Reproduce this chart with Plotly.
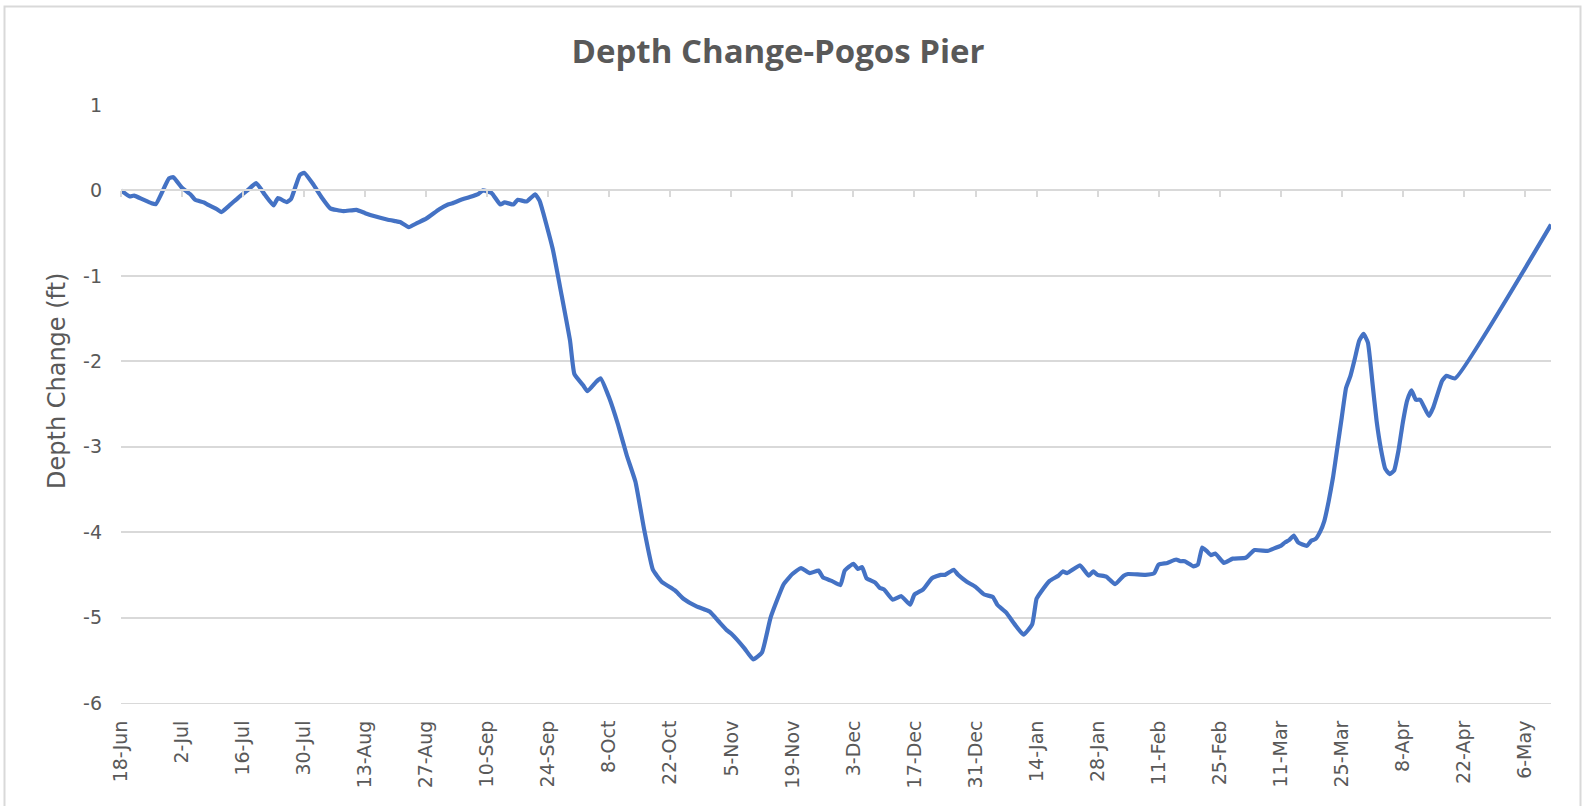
import pandas as pd
import plotly.graph_objects as go

# ---- data ----
start_date = "2018-06-18"
day_offset = [0, 2, 3, 5, 7, 8, 11, 12, 14, 16, 17, 19, 20, 22, 23, 25, 27, 29, 31, 33,
              35, 36, 38, 39, 41, 42, 44, 46, 48, 51, 54, 56, 58, 61, 63, 64, 66, 68, 70, 73,
              75, 76, 78, 80, 82, 83, 85, 87, 88, 90, 91, 93, 95, 96, 99, 101, 103, 104, 106, 107,
              109, 110, 112, 114, 116, 118, 120, 122, 124, 127, 129, 132, 135, 137, 139, 140, 143, 145, 147, 149,
              152, 154, 156, 158, 160, 161, 163, 165, 166, 168, 169, 170, 171, 173, 174, 175, 177, 179, 181, 182,
              184, 186, 188, 189, 191, 192, 194, 196, 198, 200, 201, 203, 205, 207, 209, 210, 211, 213, 215, 216,
              217, 220, 222, 223, 224, 226, 228, 230, 231, 235, 237, 238, 240, 242, 243, 244, 246, 247, 248, 249,
              250, 251, 253, 255, 258, 260, 263, 264, 266, 267, 268, 269, 270, 272, 273, 274, 275, 276, 277, 278,
              279, 280, 281, 282, 283, 284, 285, 286, 287, 288, 289, 290, 291, 292, 293, 294, 295, 296, 297, 298,
              300, 301, 303, 304, 306, 328]
depth_change = [0.0, -0.07, -0.06, -0.105, -0.15, -0.16, 0.14, 0.155, 0.03, -0.05, -0.11, -0.14, -0.17, -0.22, -0.254, -0.17, -0.08, 0.0, 0.085, -0.05,
                -0.175, -0.09, -0.137, -0.1, 0.18, 0.207, 0.078, -0.08, -0.21, -0.242, -0.227, -0.266, -0.30, -0.34, -0.36, -0.37, -0.43, -0.38, -0.33, -0.22,
                -0.164, -0.15, -0.11, -0.078, -0.04, 0.0, -0.03, -0.165, -0.14, -0.165, -0.11, -0.13, -0.045, -0.12, -0.68, -1.21, -1.76, -2.15, -2.28, -2.35,
                -2.24, -2.2, -2.43, -2.74, -3.10, -3.41, -3.97, -4.44, -4.58, -4.68, -4.78, -4.87, -4.93, -5.04, -5.15, -5.19, -5.36, -5.49, -5.41, -5.0,
                -4.61, -4.49, -4.42, -4.48, -4.45, -4.53, -4.57, -4.62, -4.45, -4.37, -4.43, -4.41, -4.54, -4.59, -4.65, -4.67, -4.79, -4.75, -4.85, -4.73,
                -4.67, -4.54, -4.50, -4.50, -4.44, -4.50, -4.58, -4.64, -4.73, -4.76, -4.85, -4.94, -5.08, -5.20, -5.08, -4.78, -4.70, -4.57, -4.51, -4.46,
                -4.48, -4.39, -4.51, -4.46, -4.50, -4.52, -4.61, -4.51, -4.49, -4.50, -4.48, -4.38, -4.36, -4.32, -4.34, -4.34, -4.40, -4.38, -4.18, -4.22,
                -4.27, -4.25, -4.36, -4.31, -4.30, -4.21, -4.22, -4.20, -4.16, -4.12, -4.09, -4.04, -4.12, -4.16, -4.10, -4.08, -4.0, -3.87, -3.64, -3.36,
                -3.01, -2.66, -2.31, -2.17, -1.97, -1.76, -1.68, -1.78, -2.23, -2.70, -3.03, -3.26, -3.32, -3.28, -3.05, -2.72, -2.46, -2.34, -2.45, -2.45,
                -2.64, -2.54, -2.23, -2.17, -2.20, -0.40]
tick_dates = ["2018-06-18", "2018-07-02", "2018-07-16", "2018-07-30", "2018-08-13", "2018-08-27",
              "2018-09-10", "2018-09-24", "2018-10-08", "2018-10-22", "2018-11-05", "2018-11-19",
              "2018-12-03", "2018-12-17", "2018-12-31", "2019-01-14", "2019-01-28", "2019-02-11",
              "2019-02-25", "2019-03-11", "2019-03-25", "2019-04-08", "2019-04-22", "2019-05-06"]
tick_labels = ["18-Jun", "2-Jul", "16-Jul", "30-Jul", "13-Aug", "27-Aug", "10-Sep", "24-Sep",
               "8-Oct", "22-Oct", "5-Nov", "19-Nov", "3-Dec", "17-Dec", "31-Dec", "14-Jan",
               "28-Jan", "11-Feb", "25-Feb", "11-Mar", "25-Mar", "8-Apr", "22-Apr", "6-May"]
y_ticks = [1, 0, -1, -2, -3, -4, -5, -6]
y_tick_labels = ["1", "0", "-1", "-2", "-3", "-4", "-5", "-6"]

dates = pd.Timestamp(start_date) + pd.to_timedelta(day_offset, unit="D")
x_range = [dates[0], dates[-1]]

# ---- geometry (pixels) ----
W, H = 1585, 806
L, R, T, B = 121, 1551, 105, 703
pw, ph = R - L, B - T
def px(x):
    return (x - L) / pw
def py(y):
    return (B - y) / ph

grid = "#d9d9d9"
txt = "#595959"
font_fam = "DejaVu Sans, Open Sans, sans-serif"
title_fam = "Open Sans, Noto Sans, sans-serif"

fig = go.Figure()
fig.add_trace(go.Scatter(x=dates, y=depth_change, mode="lines",
                         line=dict(color="#4472C4", width=4.2, shape="spline", smoothing=0.4),
                         hoverinfo="x+y", showlegend=False))
# invisible trace for overlay axis (ticks at y=0)
fig.add_trace(go.Scatter(x=[dates[0]], y=[0], xaxis="x2", mode="markers",
                         marker=dict(opacity=0), showlegend=False, hoverinfo="skip"))

fig.update_layout(
    width=W, height=H,
    margin=dict(l=L, r=W - R, t=T, b=H - B, pad=0),
    paper_bgcolor="white", plot_bgcolor="white",
    font=dict(family=font_fam, color=txt),
    title=dict(text="<b>Depth Change-Pogos Pier</b>", x=778 / W, xanchor="center",
               y=1 - 51 / H, yanchor="middle",
               font=dict(size=33, color=txt, family=title_fam)),
    xaxis=dict(type="date", range=x_range, tickvals=tick_dates, ticktext=tick_labels,
               tickangle=-90, tickfont=dict(size=19, color=txt),
               showgrid=False, zeroline=False, showline=True, linecolor=grid, linewidth=1,
               ticks="", ticklabelstandoff=9, automargin=False),
    xaxis2=dict(type="date", range=x_range, overlaying="x", anchor="free", position=6 / 7,
                tickvals=tick_dates, showticklabels=False, showgrid=False, zeroline=False,
                showline=True, linecolor=grid, linewidth=1.5,
                ticks="outside", ticklen=6, tickcolor=grid, tickwidth=1.5, side="bottom"),
    yaxis=dict(range=[-6, 1], tickvals=y_ticks, ticktext=y_tick_labels,
               tickfont=dict(size=19, color=txt),
               showgrid=True, gridcolor=grid, gridwidth=1.5, zeroline=False,
               showline=False, ticks="", ticklabelstandoff=18, automargin=False),
    annotations=[dict(text="Depth Change (ft)", textangle=-90, xref="paper", yref="paper",
                      x=px(57), y=py(381), xanchor="center", yanchor="middle",
                      showarrow=False, font=dict(size=24, color=txt, family=font_fam))],
    shapes=[dict(type="rect", xref="paper", yref="paper",
                 x0=px(4.5), x1=px(1580.5), y0=py(6.5), y1=py(812),
                 line=dict(color=grid, width=2), fillcolor="rgba(0,0,0,0)", layer="below")],
)

fig.write_html("out.html", config={"displayModeBar": False},
               post_script="document.body.style.margin='0';document.body.style.overflow='hidden';")
